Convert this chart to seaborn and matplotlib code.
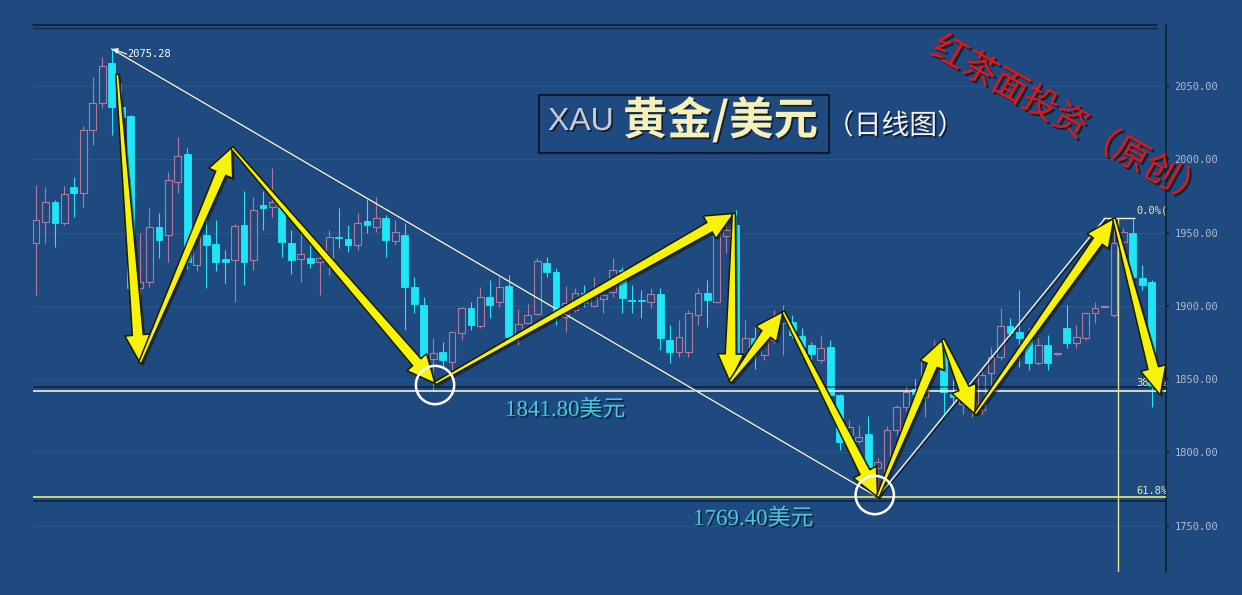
import numpy as np
import pandas as pd
import matplotlib
matplotlib.use("Agg")
import matplotlib.pyplot as plt
import matplotlib.patheffects as pe
from matplotlib.patches import Rectangle, Polygon
from matplotlib.lines import Line2D
import seaborn as sns

# daily candles (left to right)
opens = [1942.8, 1957.2, 1970.8, 1956.5, 1981.0, 1977.0, 2020.0, 2038.4, 2065.7, 2035.7,
         2029.5, 1912.0, 1916.0, 1953.8, 1948.0, 1984.5, 2003.6, 1927.8, 1948.0, 1942.0,
         1932.0, 1931.0, 1955.0, 1931.2, 1968.6, 1967.6, 1968.8, 1942.8, 1932.0, 1932.8,
         1930.0, 1932.4, 1947.0, 1945.4, 1941.5, 1958.0, 1954.0, 1960.0, 1944.4, 1948.3,
         1912.6, 1900.5, 1863.5, 1868.6, 1861.8, 1881.2, 1898.2, 1886.2, 1905.8, 1902.8,
         1913.5, 1880.0, 1888.4, 1894.4, 1929.0, 1923.3, 1892.5, 1897.0, 1908.5, 1899.8,
         1904.4, 1909.6, 1924.4, 1904.0, 1903.5, 1902.8, 1908.0, 1876.6, 1868.6, 1868.6,
         1893.7, 1908.5, 1902.8, 1947.6, 1955.0, 1865.2, 1877.8, 1866.4, 1876.6, 1888.5,
         1889.0, 1879.4, 1873.2, 1863.0, 1872.0, 1839.0, 1812.0, 1808.0, 1812.4, 1789.0,
         1786.8, 1815.0, 1831.0, 1843.0, 1838.0, 1858.0, 1871.0, 1840.0, 1833.0, 1830.0,
         1828.8, 1853.8, 1865.2, 1886.2, 1882.3, 1878.9, 1860.7, 1873.2, 1867.0, 1885.0,
         1874.8, 1877.8, 1894.8, 1899.4, 1893.7, 1943.7, 1949.4, 1918.7, 1916.4]
highs = [1982.4, 1981.0, 1972.0, 1982.0, 1988.0, 2023.0, 2056.0, 2070.0, 2075.28, 2052.0,
         2030.0, 1950.0, 1966.7, 1963.0, 1991.0, 2015.0, 2007.7, 1950.0, 1963.0, 1958.5,
         1938.0, 1956.0, 1978.0, 1974.4, 1978.0, 1994.0, 1969.0, 1951.7, 1950.0, 1941.5,
         1936.0, 1951.7, 1966.7, 1955.0, 1963.3, 1973.5, 1974.4, 1962.0, 1958.5, 1956.3,
         1919.8, 1906.0, 1878.0, 1875.0, 1883.0, 1899.4, 1902.8, 1913.0, 1917.6, 1920.0,
         1921.0, 1898.0, 1901.0, 1932.4, 1933.5, 1925.6, 1913.5, 1912.0, 1914.0, 1919.6,
         1914.0, 1932.6, 1926.7, 1914.0, 1910.8, 1911.9, 1911.9, 1886.9, 1890.0, 1897.0,
         1912.0, 1917.6, 1955.0, 1958.5, 1965.4, 1890.0, 1885.7, 1885.7, 1897.0, 1900.5,
         1893.7, 1885.0, 1875.4, 1880.0, 1876.6, 1840.0, 1822.0, 1818.6, 1824.7, 1796.0,
         1818.0, 1832.0, 1845.0, 1850.0, 1866.4, 1876.6, 1877.8, 1849.0, 1843.0, 1840.0,
         1856.0, 1872.0, 1898.2, 1891.5, 1910.8, 1885.0, 1877.8, 1880.0, 1868.0, 1900.5,
         1886.9, 1896.0, 1902.8, 1900.0, 1959.7, 1953.0, 1959.0, 1927.8, 1917.6]
lows = [1907.3, 1942.8, 1940.0, 1955.0, 1960.6, 1967.4, 2010.0, 2035.0, 2016.5, 2020.0,
        1902.0, 1908.0, 1912.8, 1932.6, 1930.0, 1977.0, 1925.0, 1924.0, 1912.0, 1924.0,
        1915.5, 1902.6, 1914.0, 1924.4, 1951.7, 1960.8, 1933.5, 1922.0, 1916.4, 1925.8,
        1907.3, 1921.0, 1939.4, 1936.9, 1938.0, 1949.7, 1950.5, 1933.5, 1941.5, 1883.4,
        1895.0, 1860.7, 1841.8, 1858.4, 1856.0, 1876.6, 1883.4, 1884.6, 1891.5, 1899.4,
        1876.6, 1873.0, 1888.0, 1893.7, 1919.8, 1886.9, 1882.3, 1896.0, 1899.4, 1899.4,
        1895.0, 1906.0, 1894.8, 1894.8, 1891.5, 1898.2, 1869.8, 1860.7, 1865.2, 1865.2,
        1886.9, 1885.7, 1902.0, 1935.8, 1863.0, 1863.0, 1857.0, 1863.0, 1874.4, 1866.4,
        1877.8, 1865.0, 1863.0, 1860.7, 1827.7, 1801.5, 1809.0, 1806.0, 1789.0, 1769.4,
        1780.0, 1812.0, 1828.0, 1834.0, 1824.3, 1852.0, 1826.6, 1832.0, 1826.0, 1824.3,
        1826.0, 1846.0, 1863.0, 1879.0, 1858.4, 1856.0, 1859.5, 1856.0, 1866.0, 1871.0,
        1871.0, 1876.6, 1888.0, 1899.0, 1892.0, 1940.0, 1901.7, 1911.0, 1831.0]
closes = [1958.5, 1970.8, 1956.5, 1976.3, 1977.0, 2020.0, 2038.4, 2063.6, 2035.7, 2028.8,
          1912.0, 1916.0, 1953.8, 1945.0, 1985.8, 2002.2, 1930.0, 1947.0, 1941.5, 1930.0,
          1930.0, 1954.4, 1930.0, 1965.4, 1967.0, 1971.0, 1943.7, 1931.0, 1935.6, 1929.0,
          1932.3, 1947.1, 1946.0, 1941.5, 1956.3, 1955.0, 1960.0, 1945.0, 1950.5, 1913.0,
          1901.2, 1863.0, 1868.0, 1863.0, 1882.3, 1898.2, 1886.9, 1906.2, 1900.5, 1913.0,
          1878.9, 1887.5, 1893.7, 1930.8, 1923.3, 1893.7, 1901.7, 1908.5, 1901.7, 1906.2,
          1907.3, 1924.4, 1905.0, 1903.0, 1903.0, 1907.8, 1877.8, 1868.6, 1878.9, 1894.8,
          1908.9, 1903.9, 1950.5, 1951.7, 1865.2, 1877.8, 1872.0, 1878.9, 1888.0, 1894.0,
          1880.0, 1872.0, 1867.0, 1871.0, 1839.0, 1807.2, 1817.0, 1810.6, 1789.7, 1793.6,
          1815.0, 1831.0, 1841.4, 1840.0, 1862.0, 1870.0, 1841.4, 1837.5, 1839.0, 1834.0,
          1852.7, 1865.2, 1886.2, 1881.7, 1877.8, 1860.7, 1873.2, 1861.0, 1867.3, 1874.8,
          1879.0, 1894.8, 1898.2, 1899.6, 1942.6, 1950.5, 1919.8, 1914.0, 1845.0]

yticks = [1750, 1800, 1850, 1900, 1950, 2000, 2050]
support_levels = [1841.8, 1769.4]
support_labels = ["1841.80美元", "1769.40美元"]
peak_idx, peak_price = 8, 2075.28
low_idx, low_price = 89, 1769.4
high_idx, high_price = 113.06, 1959.7
fib_labels = ["0.0%(1959.70)", "38.2%", "61.8%"]
fib_prices = [1964.7, 1847.3, 1773.5]
# zigzag swing points joined by the yellow arrows
swing_idx = [8.6, 11.0, 20.7, 42.2, 73.8, 73.4, 79.0, 89.0, 95.9, 99.3, 114.0, 118.9]
swing_price = [2058, 1861, 2008, 1847, 1963, 1848, 1896, 1769.4, 1877, 1826, 1959.7, 1839]
circle_idx = [42.2, 88.7]
circle_price = [1845.9, 1770.8]

BG = "#1f4a7f"
UP = "#b27a9c"
DOWN = "#1ee6f6"
YEL = "#f7f20a"
DARK = "#0f2036"

sns.set_theme(style="dark", rc={"axes.facecolor": BG, "figure.facecolor": BG,
                                "savefig.facecolor": BG})
plt.rcParams["font.family"] = ["DejaVu Sans", "Noto Sans CJK SC"]

W, H = 1242, 595
fig = plt.figure(figsize=(W / 100, H / 100), dpi=100)
ax = fig.add_axes([33 / W, (H - 572) / H, (1166 - 33) / W, (572 - 25) / H])
ax.set_xlim(-0.317, 119.5)
ax.set_ylim(1718.26, 2091.64)

df = pd.DataFrame({"open": opens, "high": highs, "low": lows, "close": closes})
df["idx"] = np.arange(len(df))
up = df["close"] >= df["open"]
body_lo = df[["open", "close"]].min(axis=1)
body_h = (df["close"] - df["open"]).abs().clip(lower=0.7)

ax.grid(axis="y", color="#295689", lw=0.8)
ax.grid(axis="x", visible=False)

ax.vlines(df["idx"], df["low"], df["high"], colors=np.where(up, UP, DOWN), lw=0.8, zorder=2)
ax.bar(df["idx"][up], body_h[up], bottom=body_lo[up], width=0.72,
       facecolor=BG, edgecolor=UP, lw=0.8, zorder=3)
ax.bar(df["idx"][~up], body_h[~up], bottom=body_lo[~up], width=0.72,
       facecolor=DOWN, edgecolor=DOWN, lw=0.6, zorder=3)

# support lines
ax.axhline(support_levels[0], color="#eef0dc", lw=1.2, zorder=4,
           path_effects=[pe.SimpleLineShadow(offset=(0, 3), shadow_color="black", alpha=0.5), pe.Normal()])
ax.axhline(support_levels[1], color="#e8ee78", lw=1.2, zorder=4,
           path_effects=[pe.SimpleLineShadow(offset=(0, -2.5), shadow_color="black", alpha=0.5), pe.Normal()])

# trend lines
shadow = [pe.SimpleLineShadow(offset=(1, -1), shadow_color="black", alpha=0.5), pe.Normal()]
sns.lineplot(x=[peak_idx, low_idx], y=[peak_price, low_price], ax=ax, color="#f4f4dc",
             lw=1.0, zorder=4, path_effects=shadow)
sns.lineplot(x=[low_idx, high_idx], y=[low_price, high_price], ax=ax, color="#f4f4dc",
             lw=1.0, zorder=4, path_effects=shadow)
ax.hlines(high_price + 0.2, 112.85, 116.2, color="#f0f0c8", lw=1.0, zorder=4)
ax.vlines(114.4, 1718.26, high_price, color="#e4e88a", lw=1.0, zorder=4)

# peak label
ax.annotate("", xy=(peak_idx + 0.05, peak_price), xytext=(9.6, 2071.8),
            arrowprops=dict(arrowstyle="-|>", color="white", lw=0.8, mutation_scale=8,
                            shrinkA=0, shrinkB=0), zorder=5)
ax.text(9.62, 2071.8, f"{peak_price:.2f}", color="white", fontsize=7.5,
        family="DejaVu Sans Mono", va="center", ha="left", zorder=5)

for lab, p in zip(fib_labels, fib_prices):
    ax.text(116.33, p, lab, color="#e8eca0", fontsize=7.5, family="DejaVu Sans Mono",
            va="center", ha="left", clip_on=True, zorder=5)


def big_arrow(p0, p1, head_len=28, head_half=13, tail_half=5.5, start_half=1.5):
    a = ax.transData.transform(p0)
    b = ax.transData.transform(p1)
    d = b - a
    u = d / np.hypot(*d)
    n = np.array([-u[1], u[0]])
    base = b - u * head_len
    pts = np.array([a + n * start_half, base + n * tail_half, base + n * head_half, b,
                    base - n * head_half, base - n * tail_half, a - n * start_half])
    pts = ax.transData.inverted().transform(pts)
    ax.add_patch(Polygon(pts, closed=True, fc=YEL, ec="#1c1c08", lw=1.1, zorder=6,
                         path_effects=[pe.withSimplePatchShadow(offset=(1.5, -1.5), shadow_rgbFace="black",
                                                                alpha=0.4)]))


for k in range(len(swing_idx) - 1):
    big_arrow((swing_idx[k], swing_price[k]), (swing_idx[k + 1], swing_price[k + 1]))

ax.scatter(circle_idx, circle_price, s=760, facecolors="none", edgecolors="white", lw=1.8, zorder=7)

txt_shadow = [pe.withSimplePatchShadow(offset=(1.2, -1.2), shadow_rgbFace="#0a1428", alpha=0.8)]
for lab, xi, p in zip(support_labels, [55.94, 75.83], [1828.8, 1754.4]):
    ax.text(xi, p, lab, color="#45c8dc", fontsize=16.5, ha="center", va="center",
            family=["Liberation Serif", "Noto Sans CJK SC"], zorder=5, path_effects=txt_shadow)

# axes dressing
ax.set_yticks(yticks)
ax.set_yticklabels([f"{v:.2f}" for v in yticks])
ax.set_xticks([])
ax.yaxis.tick_right()
ax.tick_params(axis="y", length=2, color=DARK, pad=4, labelsize=7.5, labelcolor="#b0bacb")
for t in ax.get_yticklabels():
    t.set_family("DejaVu Sans Mono")
for side in ["left", "top", "bottom"]:
    ax.spines[side].set_visible(False)
ax.spines["right"].set_color(DARK)
ax.spines["right"].set_linewidth(1.2)


def fx(x):
    return x / W


def fy(y):
    return 1 - y / H


fig.add_artist(Line2D([fx(33), fx(1157)], [fy(25), fy(25)], color=DARK, lw=1.2))
fig.add_artist(Line2D([fx(33), fx(1157)], [fy(28), fy(28)], color="#152b4c", lw=1.0))

# title box
fig.add_artist(Rectangle((fx(539), fy(153)), fx(829) - fx(539), fy(95) - fy(153),
                         fill=False, ec="#0c1a30", lw=1.5))
fig.text(fx(548), fy(122), "XAU", color="#c8ccd4", fontsize=23, family="Liberation Sans",
         va="center", ha="left", path_effects=txt_shadow)
fig.text(fx(623), fy(121), "黄金/美元", color="#f4f0b8", fontsize=32, fontweight="bold",
         family=["Noto Sans CJK SC"], va="center", ha="left", path_effects=txt_shadow)
fig.text(fx(826), fy(126), "（日线图）", color="#f2f2f2", fontsize=20,
         family=["Noto Sans CJK SC"], va="center", ha="left", path_effects=txt_shadow)

# red watermark
fig.text(fx(1070), fy(122), "红茶面投资（原创）", color="#e01818", fontsize=25,
         family=["Noto Sans CJK SC"], rotation=-29.5, rotation_mode="anchor",
         ha="center", va="center",
         path_effects=[pe.withSimplePatchShadow(offset=(1.5, -1.5), shadow_rgbFace="#101010", alpha=0.7)])

fig.savefig("out.png", dpi=100)
